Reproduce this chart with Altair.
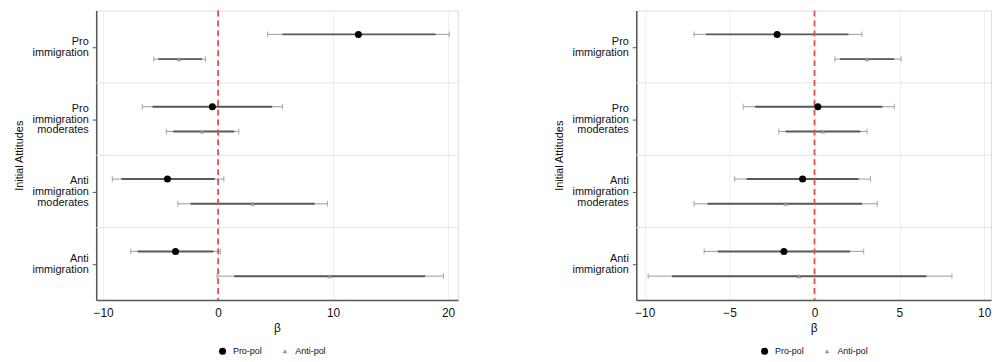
import altair as alt
import pandas as pd

categories = ["Pro immigration", "Pro immigration moderates",
              "Anti immigration moderates", "Anti immigration"]
label_lines = [["Pro", "immigration"], ["Pro", "immigration", "moderates"],
               ["Anti", "immigration", "moderates"], ["Anti", "immigration"]]
series_names = ["Pro-pol", "Anti-pol"]

# Left panel
left_propol_est = [12.2, -0.5, -4.4, -3.7]
left_propol_lo95 = [4.3, -6.6, -9.2, -7.6]
left_propol_hi95 = [20.1, 5.6, 0.5, 0.2]
left_propol_lo90 = [5.6, -5.7, -8.4, -7.0]
left_propol_hi90 = [18.9, 4.7, -0.3, -0.4]

left_antipol_est = [-3.4, -1.4, 3.0, 9.7]
left_antipol_lo95 = [-5.6, -4.5, -3.5, -0.1]
left_antipol_hi95 = [-1.1, 1.8, 9.5, 19.6]
left_antipol_lo90 = [-5.2, -3.9, -2.4, 1.4]
left_antipol_hi90 = [-1.4, 1.4, 8.4, 18.0]

# Right panel
right_propol_est = [-2.2, 0.2, -0.7, -1.8]
right_propol_lo95 = [-7.1, -4.2, -4.7, -6.5]
right_propol_hi95 = [2.8, 4.7, 3.3, 2.9]
right_propol_lo90 = [-6.4, -3.5, -4.0, -5.7]
right_propol_hi90 = [2.0, 4.0, 2.6, 2.1]

right_antipol_est = [3.1, 0.5, -1.7, -0.9]
right_antipol_lo95 = [1.2, -2.1, -7.1, -9.8]
right_antipol_hi95 = [5.1, 3.1, 3.7, 8.1]
right_antipol_lo90 = [1.5, -1.7, -6.3, -8.4]
right_antipol_hi90 = [4.7, 2.7, 2.8, 6.6]

left_ticks = [-10, 0, 10, 20]
right_ticks = [-10, -5, 0, 5, 10]

SERIES_OFFSET = 0.171
LINE_H = 11


def build_df(pro, anti):
    rows = []
    for s_i, (name, vals) in enumerate(zip(series_names, [pro, anti])):
        est, lo95, hi95, lo90, hi90 = vals
        off = -SERIES_OFFSET if s_i == 0 else SERIES_OFFSET
        for c_i, cat in enumerate(categories):
            rows.append(dict(category=cat, series=name, ypos=c_i + off,
                             est=est[c_i], lo95=lo95[c_i], hi95=hi95[c_i],
                             lo90=lo90[c_i], hi90=hi90[c_i]))
    return pd.DataFrame(rows)


left_df = build_df(
    (left_propol_est, left_propol_lo95, left_propol_hi95, left_propol_lo90, left_propol_hi90),
    (left_antipol_est, left_antipol_lo95, left_antipol_hi95, left_antipol_lo90, left_antipol_hi90))
right_df = build_df(
    (right_propol_est, right_propol_lo95, right_propol_hi95, right_propol_lo90, right_propol_hi90),
    (right_antipol_est, right_antipol_lo95, right_antipol_hi95, right_antipol_lo90, right_antipol_hi90))

sep_df = pd.DataFrame({"sep": [i + 0.5 for i in range(len(categories) - 1)]})
zero_df = pd.DataFrame({"zero": [0]})

label_expr = " : ".join(
    f"datum.value == {i} ? {lines!r}" for i, lines in enumerate(label_lines)) + " : ''"
three_line = [i for i, l in enumerate(label_lines) if len(l) == 3]
three_test = " || ".join(f"datum.value == {i}" for i in three_line)

FONT = "Liberation Sans"


def make_legend(legend_x):
    return alt.Legend(title=None, orient="none", direction="horizontal",
                      legendX=legend_x, legendY=339, labelFontSize=9,
                      labelFont=FONT, columnPadding=18, labelOffset=6,
                      symbolStrokeWidth=0, labelColor="#111111")


def panel(df, domain, ticks, width, legend_x):
    yscale = alt.Scale(domain=[-0.5, len(categories) - 0.5], reverse=True, nice=False, zero=False)
    xscale = alt.Scale(domain=domain, nice=False, zero=False)
    yaxis = alt.Axis(values=list(range(len(categories))), labelExpr=label_expr,
                     title="Initial Attitudes", grid=False, tickSize=4, labelPadding=4,
                     labelLineHeight=LINE_H, labelFontSize=11, labelBaseline="middle",
                     labelOffset=alt.condition(three_test, alt.value(-LINE_H),
                                               alt.value(-LINE_H / 2)),
                     titleFontSize=11, titleFontWeight="normal", titlePadding=8,
                     domainColor="#555555", domainWidth=1.5, tickColor="#555555",
                     labelColor="#111111", titleColor="#111111", labelFont=FONT, titleFont=FONT)
    xaxis = alt.Axis(values=ticks, title="β", grid=True, gridColor="#eeeeee", ticks=False,
                     labelPadding=8, labelFontSize=12, titleFontSize=12,
                     titleFontWeight="normal", titlePadding=4, domainColor="#555555",
                     domainWidth=1.5, labelColor="#111111", titleColor="#111111",
                     labelFont=FONT, titleFont=FONT)

    base = alt.Chart(df)
    seps = alt.Chart(sep_df).mark_rule(color="#e4e4e4", strokeWidth=1).encode(
        y=alt.Y("sep:Q", scale=yscale, axis=yaxis))
    outer = base.mark_rule(color="#9a9a9a", strokeWidth=1).encode(
        x=alt.X("lo95:Q", scale=xscale, axis=xaxis), x2="hi95:Q",
        y=alt.Y("ypos:Q", scale=yscale, axis=yaxis))
    cap_lo = base.mark_tick(orient="vertical", size=6, thickness=1, color="#888888").encode(
        x="lo95:Q", y="ypos:Q")
    cap_hi = base.mark_tick(orient="vertical", size=6, thickness=1, color="#888888").encode(
        x="hi95:Q", y="ypos:Q")
    inner = base.mark_rule(color="#5a5a5a", strokeWidth=2).encode(
        x="lo90:Q", x2="hi90:Q", y="ypos:Q")
    zero = alt.Chart(zero_df).mark_rule(color="#e05050", strokeWidth=1.8,
                                        strokeDash=[6, 4]).encode(x="zero:Q")
    pts = base.mark_point(filled=True, opacity=1).encode(
        x="est:Q", y="ypos:Q",
        color=alt.Color("series:N", scale=alt.Scale(domain=series_names,
                                                    range=["#000000", "#9a9a9a"]),
                        legend=make_legend(legend_x)),
        shape=alt.Shape("series:N", scale=alt.Scale(domain=series_names,
                                                    range=["circle", "triangle-up"]),
                        legend=make_legend(legend_x)),
        size=alt.Size("series:N", scale=alt.Scale(domain=series_names, range=[50, 22]),
                      legend=make_legend(legend_x)),
    )
    return alt.layer(seps, outer, cap_lo, cap_hi, inner, zero, pts).properties(
        width=width, height=292)


left = panel(left_df, [-10.6, 20.85], left_ticks, 365, 123)
right = panel(right_df, [-10.5, 10.4], right_ticks, 358, 125)

chart = alt.hconcat(left, right, spacing=94).resolve_scale(
    color="independent", shape="independent", size="independent", x="independent"
).properties(
    padding={"top": -1, "left": 4, "right": 0, "bottom": 0}
).configure_view(stroke=None).configure(font=FONT)

chart.save("out.html", embed_options={"renderer": "svg", "actions": False})
